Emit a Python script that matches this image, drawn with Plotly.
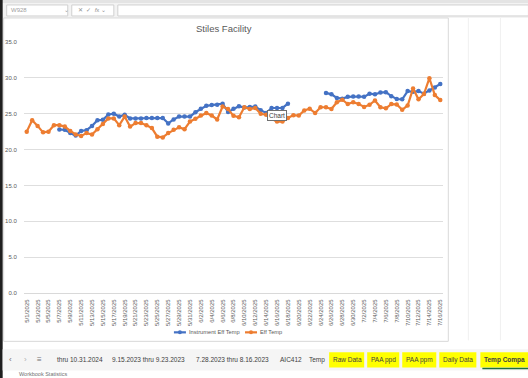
import plotly.graph_objects as go
import datetime as dt

# ---------------- data ----------------
start = dt.date(2025, 5, 1)
dates = [f"{d.month}/{d.day}/{d.year}" for d in (start + dt.timedelta(days=i) for i in range(77))]

instrument_eff_temp = [
    None, None, None, None, None, None, 22.8, 22.75, 22.3, 21.95,
    22.6, 22.7, 23.3, 24.1, 24.15, 24.9, 25.0, 24.6, 24.85, 24.35,
    24.35, 24.35, 24.4, 24.4, 24.4, 24.4, 23.65, 24.2, 24.6, 24.6,
    24.6, 25.2, 25.7, 26.1, 26.2, 26.25, 26.4, 25.25, 25.7, 26.05,
    25.85, 25.95, 26.0, 25.5, 25.1, 25.8, 25.8, 25.8, 26.4, None,
    None, None, None, None, None, 27.9, 27.7, 27.2, 27.1, 27.35,
    27.4, 27.4, 27.35, 27.8, 27.7, 27.95, 28.0, 27.45, 27.05, 27.0,
    28.15, 28.05, 28.15, 27.8, 28.25, 28.65, 29.15,
]
eff_temp = [
    22.5, 24.1, 23.3, 22.4, 22.5, 23.4, 23.4, 23.2, 22.6, 22.1,
    21.9, 22.3, 22.1, 22.85, 23.55, 24.35, 24.35, 23.4, 24.6, 23.2,
    23.7, 23.7, 23.4, 23.0, 21.8, 21.7, 22.3, 22.75, 23.1, 22.85,
    23.9, 24.3, 24.75, 25.1, 24.75, 24.2, 26.0, 25.65, 24.7, 24.5,
    25.9, 25.65, 25.8, 25.0, 24.85, 24.3, 23.9, 23.9, 24.4, 24.8,
    24.75, 25.45, 25.7, 25.1, 25.9, 25.9, 25.65, 26.6, 26.95, 26.35,
    26.6, 26.35, 25.95, 26.25, 26.85, 25.9, 25.75, 26.35, 26.3, 25.55,
    26.15, 28.5, 27.0, 27.75, 29.95, 27.6, 26.9,
]
series_names = ["Instrument Eff Temp", "Eff Temp"]
series_colors = ["#4472C4", "#ED7D31"]
x_ticks = dates[::2]
y_ticks = [0, 5, 10, 15, 20, 25, 30, 35]
sheet_tabs = ["thru 10.31.2024", "9.15.2023 thru 9.23.2023", "7.28.2023 thru 8.16.2023",
              "AIC412", "Temp", "Raw Data", "PAA ppd", "PAA ppm", "Daily Data", "Temp Compa"]

# ---------------- geometry ----------------
FW, FH = 528, 378
L, R_PX, T, B_PX = 24.3, 442.7, 42.0, 292.7
PW, PH = R_PX - L, B_PX - T

def px(x):
    return (x - L) / PW

def py(y):
    return (B_PX - y) / PH

FONT = "Liberation Sans"
GREY = "#595959"

fig = go.Figure()
for name, vals, col in zip(series_names, [instrument_eff_temp, eff_temp], series_colors):
    fig.add_trace(go.Scatter(
        x=dates, y=vals, name=name, mode="lines+markers",
        line=dict(color=col, width=2.2), marker=dict(size=4.5, color=col),
        connectgaps=False, showlegend=False,
    ))

shapes = []
annotations = []

def rect(x0, y0, x1, y1, fill, line=None, lw=1, layer="below"):
    shapes.append(dict(type="rect", xref="paper", yref="paper",
                       x0=px(x0), x1=px(x1), y0=py(y1), y1=py(y0),
                       fillcolor=fill, line=dict(color=line or fill, width=lw if line else 0),
                       layer=layer))

def text(x, y, s, size=7, color=GREY, xanchor="left", **kw):
    annotations.append(dict(xref="paper", yref="paper", x=px(x), y=py(y), text=s,
                            showarrow=False, xanchor=xanchor, yanchor="middle",
                            font=dict(family=FONT, size=size, color=color), **kw))

# Excel chrome: top bar, formula bar
rect(0, 0, FW, 3, "#e4e4e4")
rect(0, 3, FW, 18, "#f3f3f3")
rect(7, 5, 68, 16, "#ffffff", "#d0d0d0")
text(9, 10.5, "W928", size=6, color="#a0a0a0")
text(62, 10.5, "⌄", size=6, color="#a0a0a0")
rect(72, 5, 114, 16, "#ffffff", "#d0d0d0")
text(76, 10.5, "✕  ✓  <i>f</i>x ⌄", size=6, color="#909090")
rect(118, 5, FW, 16, "#ffffff", "#d0d0d0")
# spreadsheet gridlines to the right of the chart
for gx in [468, 500]:
    shapes.append(dict(type="line", xref="paper", yref="paper", x0=px(gx), x1=px(gx),
                       y0=py(340), y1=py(18), line=dict(color="#f0f0f0", width=1), layer="below"))
# chart area box
rect(4, 18, 448, 341, "#ffffff", "#d9d9d9")
# left dark strip
rect(0, 0, 3, FH, "#1f1f1f")
# sheet tab bar
rect(3, 349, FW, 370, "#f5f5f5")
text(11, 359.5, "‹", size=8, color="#707070", xanchor="center")
text(26, 359.5, "›", size=8, color="#b0b0b0", xanchor="center")
text(40, 359.5, "≡", size=8, color="#707070", xanchor="center")
tab_pos = [(53, 100), (108, 183), (192, 267), (276, 299), (305, 323),
           (329, 364), (367, 399), (402, 436), (439, 476), (480, 530)]
for name, (a, b) in zip(sheet_tabs, tab_pos):
    if name in ("Raw Data", "PAA ppd", "PAA ppm", "Daily Data", "Temp Compa"):
        rect(a, 352, b, 367, "#ffff00")
    label = f"<b>{name}</b>" if name == "Temp Compa" else name
    text(a + 2, 359.5, label, size=6.5, color="#404040")
shapes.append(dict(type="line", xref="paper", yref="paper", x0=px(482), x1=px(528),
                   y0=py(368), y1=py(368), line=dict(color="#1e6e3f", width=1.5)))
text(17, 374, "Workbook Statistics", size=5.5, color="#707070")

# manual legend (Excel style: short line with marker)
legend_items = [(174, 187), (245, 258)]
for (sx, tx), name, col in zip(legend_items, series_names, series_colors):
    shapes.append(dict(type="line", xref="paper", yref="paper", x0=px(sx), x1=px(sx + 12),
                       y0=py(332), y1=py(332), line=dict(color=col, width=2.2)))
    shapes.append(dict(type="circle", xref="paper", yref="paper",
                       x0=px(sx + 4), x1=px(sx + 8), y0=py(334), y1=py(330),
                       fillcolor=col, line=dict(color=col, width=0)))
    text(tx, 332, name, size=5.7, color=GREY)

# "Chart" tooltip
annotations.append(dict(xref="paper", yref="paper", x=px(277), y=py(115.5), text="Chart",
                        showarrow=False, xanchor="center", yanchor="middle",
                        font=dict(family=FONT, size=6.5, color="#404040"),
                        bgcolor="#ffffff", bordercolor="#707070", borderwidth=1, borderpad=1))

# title
text(224, 29, "Stiles Facility", size=9.5, color=GREY, xanchor="center")

fig.update_layout(
    width=FW, height=FH,
    margin=dict(l=L, r=FW - R_PX, t=T, b=FH - B_PX, pad=0),
    paper_bgcolor="#ffffff", plot_bgcolor="rgba(0,0,0,0)",
    font=dict(family=FONT, size=6.5, color=GREY),
    shapes=shapes, annotations=annotations,
    showlegend=False,
)
fig.update_xaxes(
    type="category", categoryorder="array", categoryarray=dates,
    range=[-0.5, 76.5], tickmode="array", tickvals=x_ticks, ticktext=x_ticks,
    tickangle=-90, tickfont=dict(family=FONT, size=6, color=GREY),
    showgrid=False, showline=True, linecolor="#d9d9d9", linewidth=1,
    ticks="outside", ticklen=3, tickcolor="rgba(0,0,0,0)", automargin=False, fixedrange=True,
)
fig.update_yaxes(
    range=[0, 35], tickmode="array", tickvals=y_ticks, tickformat=".1f",
    tickfont=dict(family=FONT, size=6, color=GREY),
    showgrid=True, gridcolor="#dedede", gridwidth=1, zeroline=False,
    showline=False, ticks="outside", ticklen=5, tickcolor="rgba(0,0,0,0)",
    automargin=False, fixedrange=True,
)

fig.write_html("out.html", config={"displayModeBar": False},
               post_script="document.body.style.margin='0px';document.body.style.overflow='hidden';")
